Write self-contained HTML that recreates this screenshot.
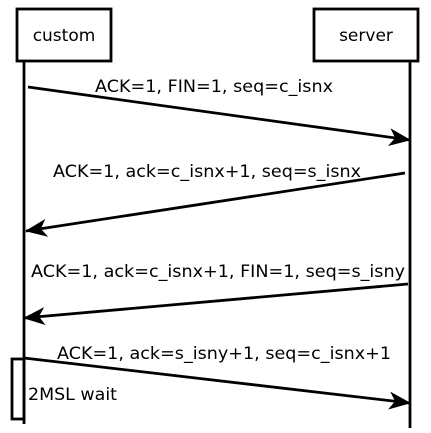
<!DOCTYPE html>
<html><head><meta charset="utf-8"><style>
html,body{margin:0;padding:0;background:#fff;width:431px;height:433px;overflow:hidden}
text{font-family:"DejaVu Sans","Liberation Sans",sans-serif;font-size:17px;fill:#000}
</style></head><body>
<svg width="431" height="433" viewBox="0 0 431 433" xmlns="http://www.w3.org/2000/svg">
<defs>
<marker id="a" markerWidth="24" markerHeight="18" refX="21" refY="9" orient="auto" markerUnits="userSpaceOnUse">
<path d="M0,0 L22,9 L0,18 L6,9 Z" fill="#000"/>
</marker>
</defs>
<rect x="17" y="9" width="94" height="52" fill="#fff" stroke="#000" stroke-width="2.8"/>
<text x="64" y="41" text-anchor="middle">custom</text>
<rect x="314" y="9" width="104" height="52" fill="#fff" stroke="#000" stroke-width="2.8"/>
<text x="366" y="41" text-anchor="middle">server</text>
<line x1="24" y1="62" x2="24" y2="424" stroke="#000" stroke-width="2.8"/>
<line x1="410" y1="62" x2="410" y2="428" stroke="#000" stroke-width="2.8"/>
<rect x="12" y="359" width="12" height="60" fill="none" stroke="#000" stroke-width="2.8"/>

<line x1="28" y1="87" x2="410" y2="140" stroke="#000" stroke-width="2.8" marker-end="url(#a)"/>
<text x="95" y="92" textLength="238" lengthAdjust="spacingAndGlyphs">ACK=1, FIN=1, seq=c_isnx</text>

<line x1="405" y1="173" x2="26" y2="231" stroke="#000" stroke-width="2.8" marker-end="url(#a)"/>
<text x="53" y="177" textLength="308" lengthAdjust="spacingAndGlyphs">ACK=1, ack=c_isnx+1, seq=s_isnx</text>

<line x1="408" y1="284" x2="24" y2="318" stroke="#000" stroke-width="2.8" marker-end="url(#a)"/>
<text x="31" y="277" textLength="374" lengthAdjust="spacingAndGlyphs">ACK=1, ack=c_isnx+1, FIN=1, seq=s_isny</text>

<line x1="24" y1="358" x2="410" y2="403" stroke="#000" stroke-width="2.8" marker-end="url(#a)"/>
<text x="57" y="359" textLength="334" lengthAdjust="spacingAndGlyphs">ACK=1, ack=s_isny+1, seq=c_isnx+1</text>

<text x="28" y="400" textLength="89" lengthAdjust="spacingAndGlyphs">2MSL wait</text>
</svg>
</body></html>
